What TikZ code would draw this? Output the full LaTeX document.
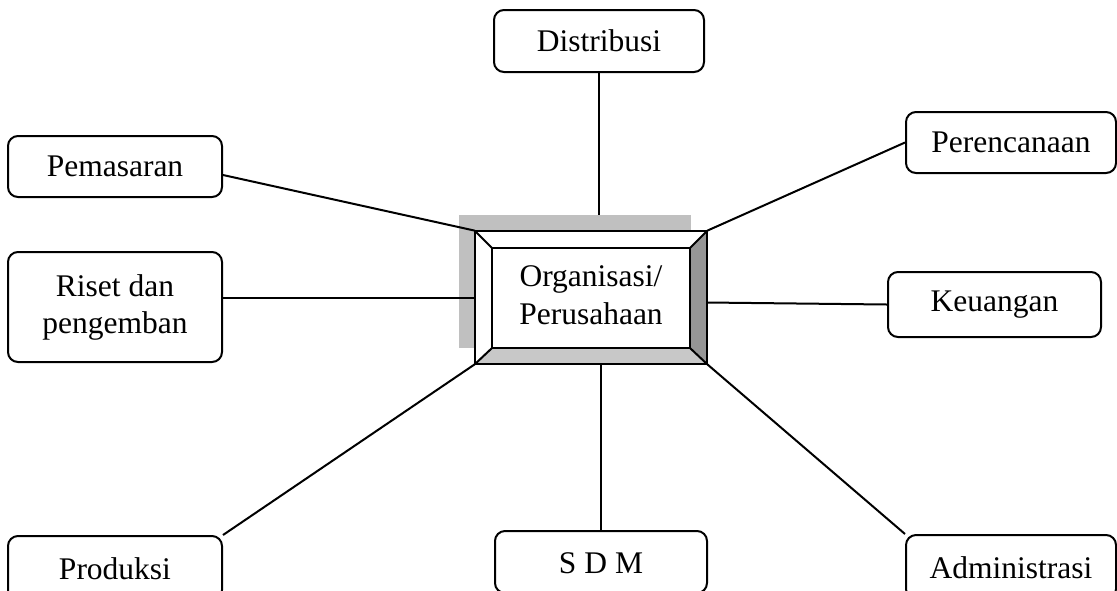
\documentclass[tikz,border=0pt]{standalone}
\usepackage{fontspec}
\setmainfont{Liberation Serif}
\usetikzlibrary{calc}
\definecolor{shadegray}{HTML}{C0C0C0}
\definecolor{bevellight}{HTML}{C8C8C8}
\definecolor{beveldark}{HTML}{969696}
\tikzset{
  unitbox/.style={draw, line width=1pt, rounded corners=5pt, inner sep=0pt,
    align=center, font=\fontsize{15.75}{18.5}\selectfont,
    minimum width=#1*0.5pt},
  link/.style={line width=1pt},
  bevel/.style={line width=1pt, line join=miter}
}
\begin{document}
\begin{tikzpicture}[x=0.5pt, y=-0.5pt]
  \useasboundingbox (0,0) rectangle (1117,590);
  \clip (0,0) rectangle (1117,590);

  % outer boxes
  \node[unitbox=210, minimum height=31pt] (dist) at (599,41) {Distribusi};
  \node[unitbox=214, minimum height=30.5pt] (pem) at (115,166.5) {Pemasaran};
  \node[unitbox=214, minimum height=55pt] (riset) at (115,307) {Riset dan\\pengemban};
  \node[unitbox=210, minimum height=30.5pt] (per) at (1011,142.5) {Perencanaan};
  \node[unitbox=213, minimum height=32.5pt] (keu) at (994.5,304.5) {Keuangan};
  \node[unitbox=214, minimum height=64*0.5pt, text height=11pt, text depth=0pt] (prod) at (115,568) {Produksi};
  \node[unitbox=212, minimum height=62*0.5pt, text height=11pt, text depth=0pt] (sdm) at (601,562) {S D M};
  \node[unitbox=210, minimum height=64*0.5pt, text height=11pt, text depth=0pt] (adm) at (1011,567) {Administrasi};

  % shadow behind the central box
  \node[fill=shadegray, minimum width=116pt, minimum height=66.5pt, inner sep=0pt] (shade) at (575,281.5) {};

  % central box frame (text added later)
  \node[minimum width=116pt, minimum height=66.5pt, inner sep=0pt] (org) at (591,297.5) {};
  \coordinate (inw) at ($(org.north west)+(17,17)$);
  \coordinate (ine) at ($(org.north east)+(-17,17)$);
  \coordinate (isw) at ($(org.south west)+(17,-16)$);
  \coordinate (ise) at ($(org.south east)+(-17,-16)$);
  \coordinate (orgright) at ($(org.east)+(0,5)$);

  % connectors
  \draw[link] (dist.south) -- (dist.south |- shade.north);
  \draw[link] ($(pem.east)+(0,8.5)$) -- (org.north west);
  \draw[link] (per.west) -- (org.north east);
  \draw[link] (riset.east |- org.west) -- (org.west);
  \draw[link] (orgright) -- (keu.west);
  \draw[link] (prod.north east) -- (org.south west);
  \draw[link] (sdm.north |- org.south) -- (sdm.north);
  \draw[link] (adm.north west) -- (org.south east);

  % bevelled faces
  \fill[white] (org.north west) -- (org.north east) -- (ine) -- (inw) -- cycle;
  \fill[white] (org.north west) -- (inw) -- (isw) -- (org.south west) -- cycle;
  \fill[bevellight] (org.south west) -- (org.south east) -- (ise) -- (isw) -- cycle;
  \fill[beveldark] (org.north east) -- (org.south east) -- (ise) -- (ine) -- cycle;
  \fill[white] (inw) rectangle (ise);
  \draw[bevel] (org.north west) rectangle (org.south east);
  \draw[bevel] (inw) rectangle (ise);
  \draw[bevel] (org.north west) -- (inw);
  \draw[bevel] (org.north east) -- (ine);
  \draw[bevel] (org.south west) -- (isw);
  \draw[bevel] (org.south east) -- (ise);
  \node[align=center, font=\fontsize{15.75}{19}\selectfont] (orgtext) at ($(org.center)+(0,-2)$) {Organisasi/\\Perusahaan};
\end{tikzpicture}
\end{document}
